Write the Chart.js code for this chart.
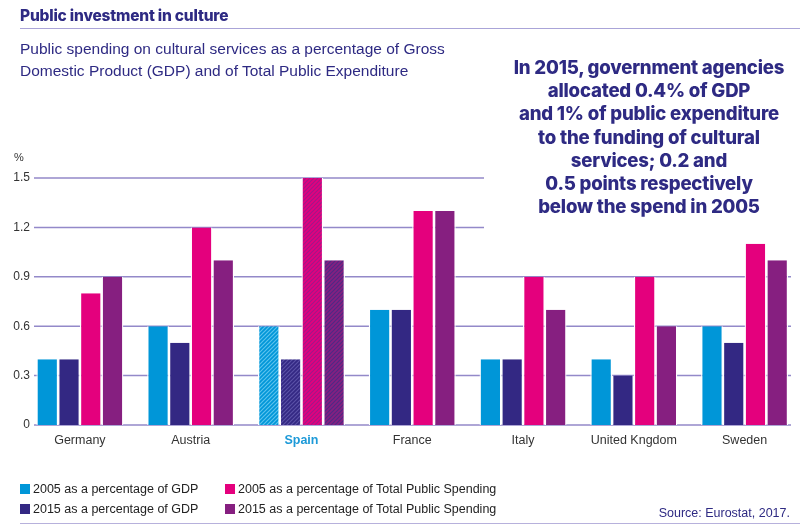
<!DOCTYPE html>
<html>
<head>
<meta charset="utf-8">
<script src="https://cdn.jsdelivr.net/npm/chart.js@4"></script>
<style>
  body { margin: 0; background: #fff; }
  #wrap { position: relative; width: 800px; height: 529px; overflow: hidden; font-family: "Liberation Sans", Arial, sans-serif; }
  #chart { position: absolute; left: 0; top: 0; }
  .t { position: absolute; white-space: nowrap; }
  #title { left: 20px; top: 6px; font: 800 15.5px Inter, sans-serif; color: #2e2a83; letter-spacing: -0.2px; }
  #rule1 { position: absolute; left: 20px; right: 0; top: 28px; height: 1px; background: #aaa4d8; }
  #sub { left: 20px; top: 38px; font-size: 15.5px; line-height: 22px; color: #2e2a83; }
  #note { left: 489px; width: 320px; top: 56px; text-align: center; font: 800 18.6px Inter, sans-serif; line-height: 23.2px; color: #2e2a83; letter-spacing: -0.2px; }
  #legend { position: absolute; left: 20px; top: 481px; display: grid; grid-template-columns: 205px 300px; row-gap: 5px; font-size: 12.5px; color: #222; }
  #legend span { display: flex; align-items: center; height: 15px; }
  #legend i { display: inline-block; width: 10px; height: 10px; margin-right: 3px; }
  #source { right: 10px; top: 506px; font-size: 12.5px; color: #2e2a83; }
  #rule2 { position: absolute; left: 20px; right: 0; top: 523px; height: 1px; background: #b7b1dc; }
</style>
</head>
<body>
<div id="wrap">
  <canvas id="chart" width="800" height="529"></canvas>
  <div class="t" id="title">Public investment in culture</div>
  <div id="rule1"></div>
  <div class="t" id="sub">Public spending on cultural services as a percentage of Gross<br>Domestic Product (GDP) and of Total Public Expenditure</div>
  <div class="t" id="note">In 2015, government agencies<br>allocated 0.4% of GDP<br>and 1% of public expenditure<br>to the funding of cultural<br>services; 0.2 and<br>0.5 points respectively<br>below the spend in 2005</div>
  <div id="legend"></div>
  <div class="t" id="source">Source: Eurostat, 2017.</div>
  <div id="rule2"></div>
</div>
<script>
  // Chart data
  var countries = ['Germany', 'Austria', 'Spain', 'France', 'Italy', 'United Kngdom', 'Sweden'];
  var gdp2005 = [0.4, 0.6, 0.6, 0.7, 0.4, 0.4, 0.6];
  var gdp2015 = [0.4, 0.5, 0.4, 0.7, 0.4, 0.3, 0.5];
  var tps2005 = [0.8, 1.2, 1.5, 1.3, 0.9, 0.9, 1.1];
  var tps2015 = [0.9, 1.0, 1.0, 1.3, 0.7, 0.6, 1.0];
  var yTicks = [0, 0.3, 0.6, 0.9, 1.2, 1.5];
  var highlight = 2; // Spain is drawn hatched

  // Striped fill for the highlighted country
  function makeHatch(base, stripe) {
    var c = document.createElement('canvas');
    c.width = 4; c.height = 4;
    var g = c.getContext('2d');
    g.fillStyle = base;
    g.fillRect(0, 0, 4, 4);
    g.strokeStyle = stripe;
    g.lineWidth = 1.2;
    g.beginPath();
    g.moveTo(-1, 5); g.lineTo(5, -1);
    g.moveTo(-1, 1); g.lineTo(1, -1);
    g.moveTo(3, 5); g.lineTo(5, 3);
    g.stroke();
    return g.createPattern(c, 'repeat');
  }

  function makeSet(label, values, color, stripe) {
    var hatch = makeHatch(color, stripe);
    return {
      label: label,
      data: values,
      legendColor: color,
      backgroundColor: (ctx) => ctx.dataIndex === highlight ? hatch : color,
      borderColor: '#fff',
      borderWidth: { left: 1.3, right: 1.3, top: 0, bottom: 0 },
      borderSkipped: false
    };
  }

  var datasets = [
    makeSet('2005 as a percentage of GDP', gdp2005, '#0096d8', '#5cc3ee'),
    makeSet('2015 as a percentage of GDP', gdp2015, '#332883', '#5b51a6'),
    makeSet('2005 as a percentage of Total Public Spending', tps2005, '#e4007d', '#a0178a'),
    makeSet('2015 as a percentage of Total Public Spending', tps2015, '#861f80', '#4e2a85')
  ];

  // Grid lines and y tick labels, drawn under the bars
  var gridPlugin = {
    id: 'grid',
    beforeDatasetsDraw(chart) {
      var g = chart.ctx, y = chart.scales.y;
      g.save();
      g.strokeStyle = '#9389c9';
      g.lineWidth = 1.5;
      g.fillStyle = '#333';
      g.font = '12px "Liberation Sans", Arial, sans-serif';
      g.textAlign = 'right';
      g.textBaseline = 'middle';
      yTicks.forEach((v) => {
        var py = y.getPixelForValue(v);
        var right = v >= 1.2 ? 484 : 791;
        g.beginPath();
        g.moveTo(34, py);
        g.lineTo(right, py);
        g.stroke();
        g.fillText(String(v), 30, py);
      });
      g.textAlign = 'left';
      g.font = '11px "Liberation Sans", Arial, sans-serif';
      g.fillText('%', 14, y.getPixelForValue(1.5) - 20);
      g.restore();
    }
  };

  var chart = new Chart(document.getElementById('chart').getContext('2d'), {
    type: 'bar',
    data: { labels: countries, datasets: datasets },
    options: {
      responsive: false,
      animation: false,
      layout: { padding: { left: 24.5, right: 0, top: 178, bottom: 0 } },
      categoryPercentage: 0.785,
      barPercentage: 1,
      plugins: { legend: { display: false }, tooltip: { enabled: false } },
      scales: {
        x: {
          grid: { display: false },
          border: { display: false },
          afterFit: (scale) => { scale.height = 104; },
          ticks: {
            padding: 0,
            color: (ctx) => ctx.index === highlight ? '#1d9ad8' : '#333',
            font: (ctx) => ({ family: '"Liberation Sans", Arial, sans-serif', size: 12.5, weight: ctx.index === highlight ? 'bold' : 'normal' })
          }
        },
        y: { display: false, min: 0, max: 1.5 }
      }
    },
    plugins: [gridPlugin]
  });

  // Legend in two columns: GDP on the left, public spending on the right
  var legend = document.getElementById('legend');
  [0, 2, 1, 3].forEach((i) => {
    var ds = chart.data.datasets[i];
    var s = document.createElement('span');
    s.innerHTML = '<i style="background:' + ds.legendColor + '"></i>' + ds.label;
    legend.appendChild(s);
  });
</script>
</body>
</html>
